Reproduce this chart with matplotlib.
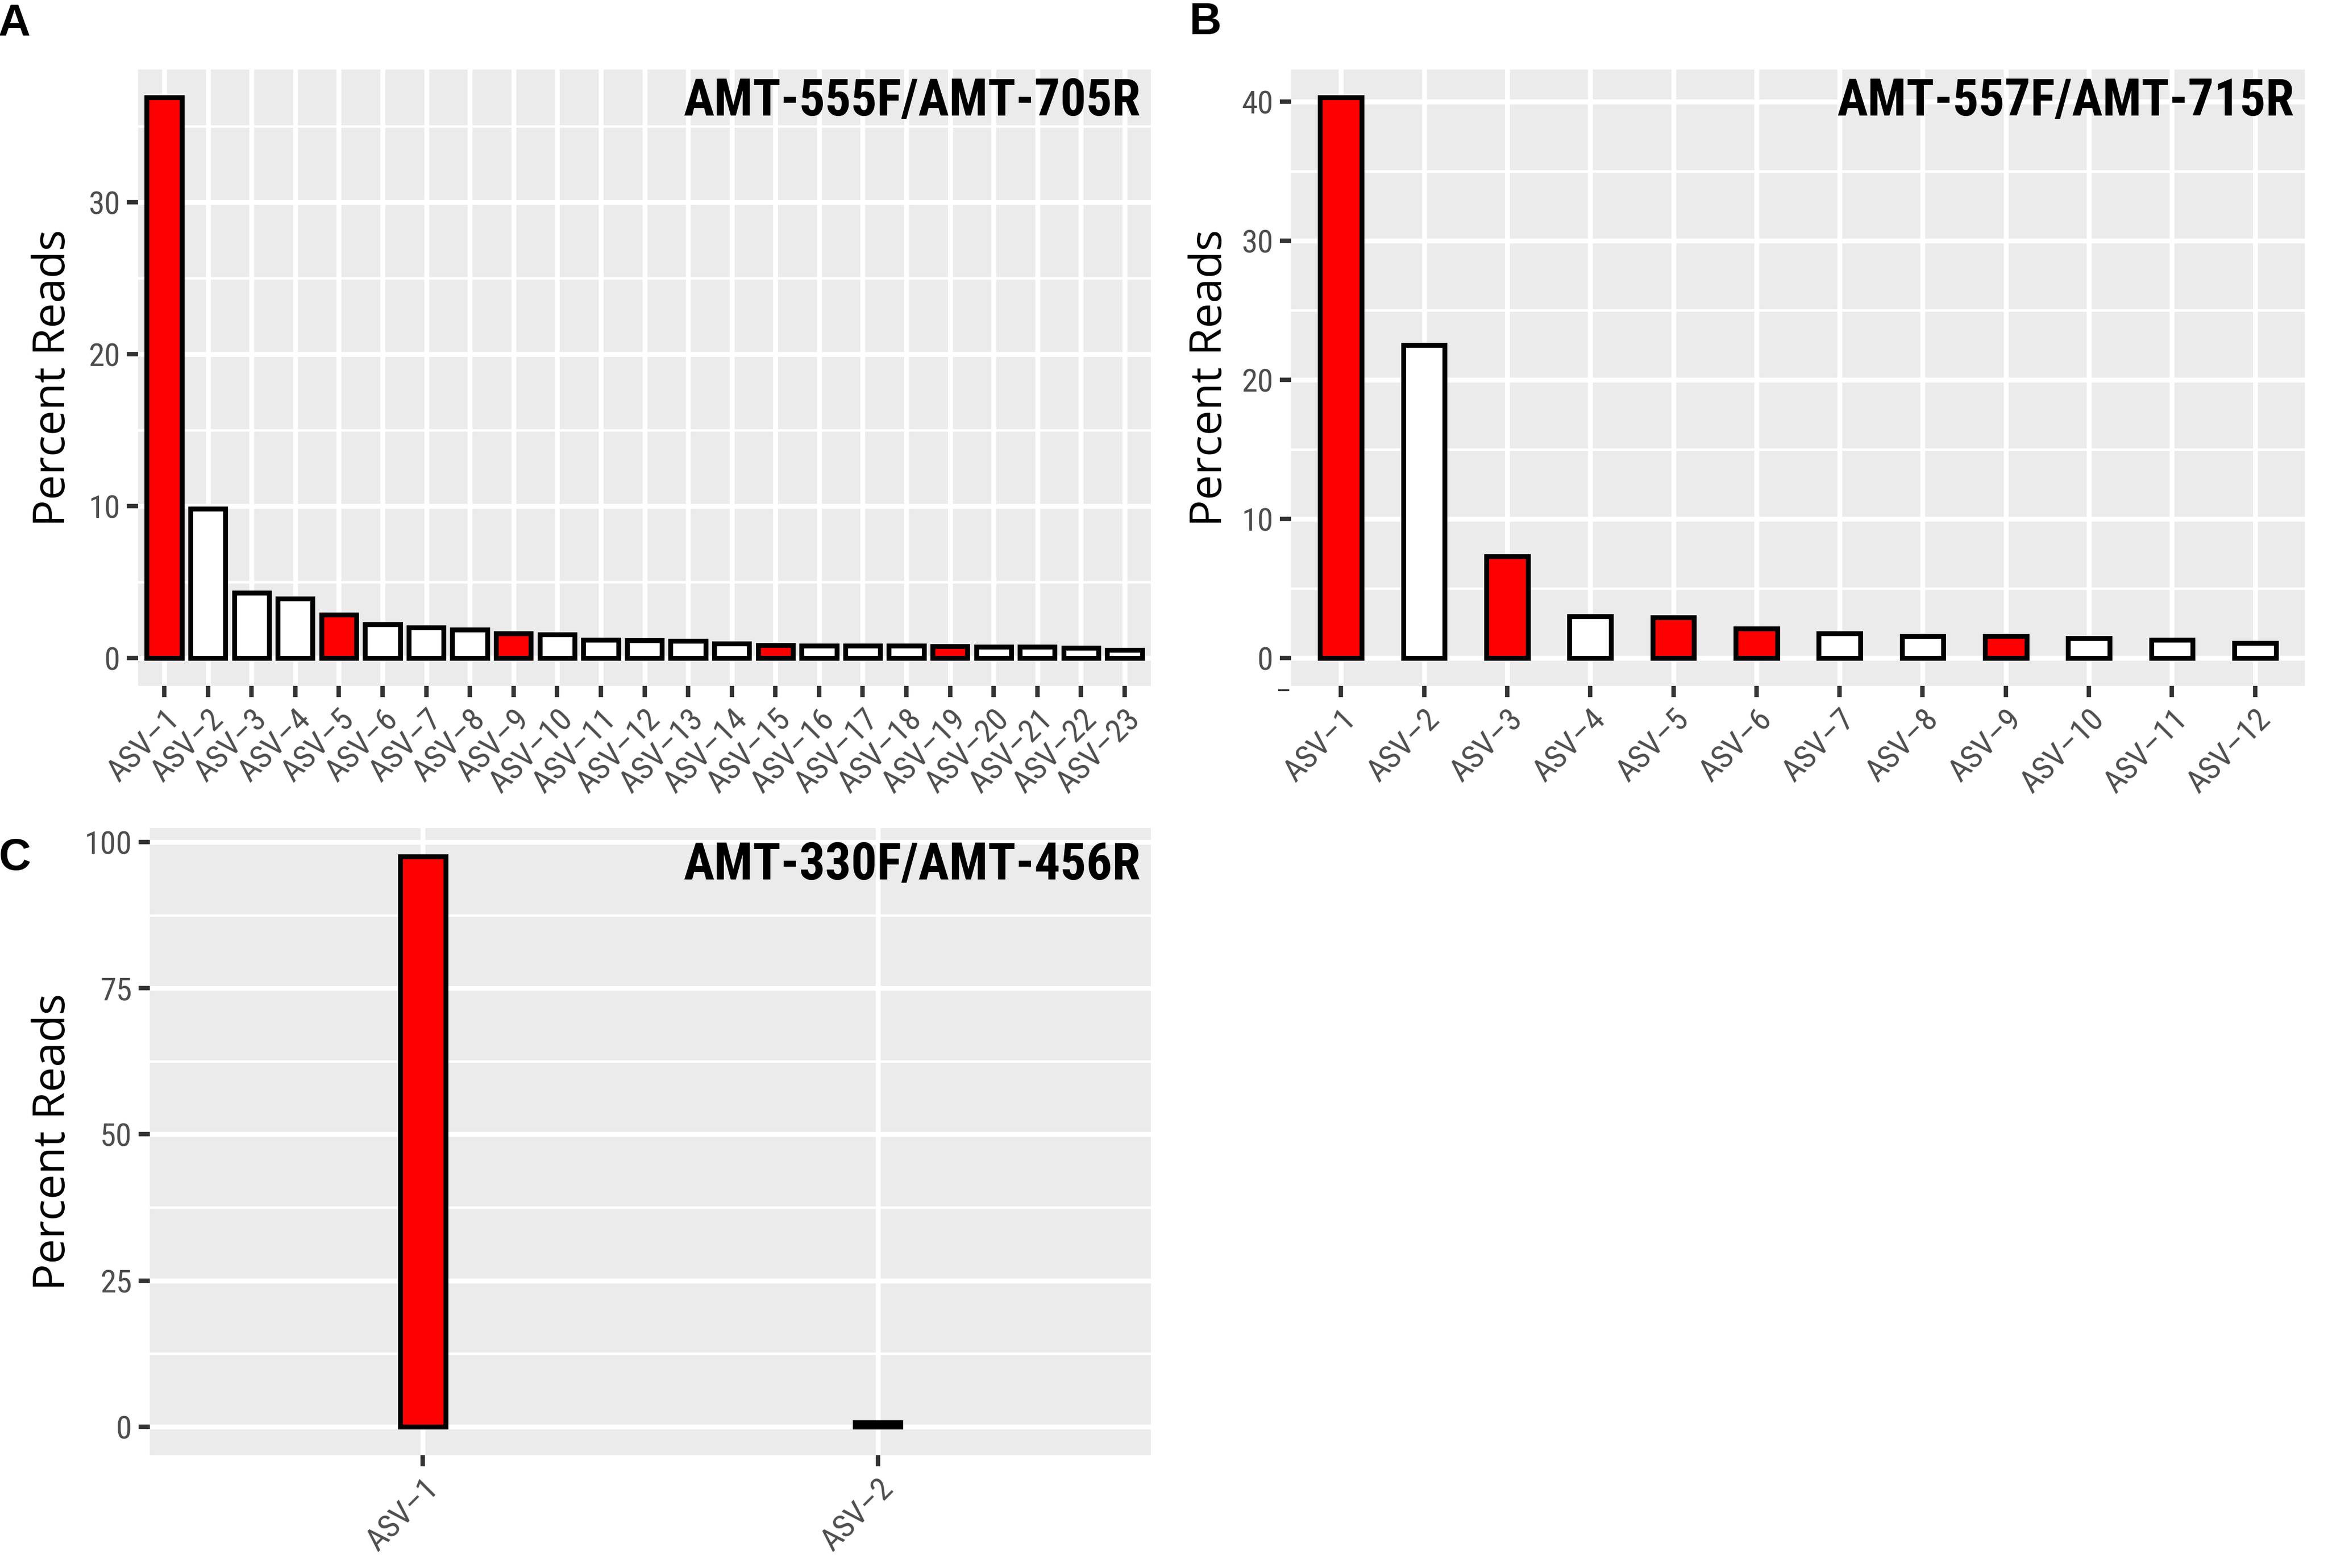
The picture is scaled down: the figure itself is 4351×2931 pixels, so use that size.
import matplotlib
matplotlib.use("Agg")
import matplotlib.pyplot as plt
from matplotlib import font_manager
from matplotlib.ticker import FixedLocator

# fonts: pick what is installed
names = {f.name for f in font_manager.fontManager.ttflist}
def pick(*cands):
    for c in cands:
        if c in names:
            return c
    return "DejaVu Sans"

narrow = pick("Liberation Sans Narrow", "Roboto Condensed", "Open Sans Condensed", "Liberation Sans")
label_font = pick("Open Sans", "Noto Sans", "DejaVu Sans")
bold_font = pick("Liberation Sans", "DejaVu Sans")

RED = "#FF0000"

# ---- data ----
asv_a = ["ASV–%d" % i for i in range(1, 24)]
pct_a = [36.9, 9.8, 4.3, 3.9, 2.85, 2.2, 2.0, 1.85, 1.6, 1.55, 1.2, 1.15,
         1.1, 0.95, 0.85, 0.8, 0.8, 0.8, 0.75, 0.72, 0.72, 0.65, 0.5]
red_a = ["ASV–1", "ASV–5", "ASV–9", "ASV–15", "ASV–19"]

asv_b = ["ASV–%d" % i for i in range(1, 13)]
pct_b = [40.3, 22.5, 7.3, 3.0, 2.9, 2.1, 1.75, 1.55, 1.55, 1.4, 1.3, 1.05]
red_b = ["ASV–1", "ASV–3", "ASV–5", "ASV–6", "ASV–9"]

asv_c = ["ASV–1", "ASV–2"]
pct_c = [97.5, 0.7]
red_c = ["ASV–1"]

W, H = 4351, 2931
fig = plt.figure(figsize=(W / 300, H / 300), dpi=300)

def px_axes(x0, y0, x1, y1):
    return fig.add_axes([x0 / W, 1 - y1 / H, (x1 - x0) / W, (y1 - y0) / H])

def panel(ax, labels, vals, reds, width, major, minor, title, title_y):
    n = len(labels)
    colors = [RED if l in reds else "white" for l in labels]
    ax.set_facecolor("#EBEBEB")
    ax.bar(range(n), vals, width=width, color=colors, edgecolor="black",
           linewidth=2.2, zorder=3)
    top = max(vals)
    ax.set_xlim(-0.6, n - 1 + 0.6)
    ax.set_ylim(-0.05 * top, 1.05 * top)
    ax.set_xticks(range(n))
    ax.set_xticklabels(labels, rotation=45, ha="right", va="top",
                       rotation_mode="anchor", fontfamily=narrow)
    ax.yaxis.set_major_locator(FixedLocator(major))
    ax.yaxis.set_minor_locator(FixedLocator(minor))
    for t in ax.get_yticklabels():
        t.set_fontfamily(narrow)
    ax.grid(which="major", color="white", linewidth=2.2, zorder=0)
    ax.grid(which="minor", axis="y", color="white", linewidth=1.1, zorder=0)
    ax.set_axisbelow(True)
    for s in ax.spines.values():
        s.set_visible(False)
    ax.tick_params(which="major", color="#333333", length=5, width=2,
                   labelsize=14.5, labelcolor="#4D4D4D", pad=3)
    ax.tick_params(which="minor", length=0)
    ax.text(0.99, title_y, title, transform=ax.transAxes, ha="right",
            va="center", fontsize=23, fontweight="bold", fontfamily=narrow,
            zorder=5)

axA = px_axes(258, 130, 2151, 1282)
panel(axA, asv_a, pct_a, red_a, 0.8, [0, 10, 20, 30], [5, 15, 25, 35],
      "AMT-555F/AMT-705R", 0.948)

axB = px_axes(2413, 130, 4308, 1282)
panel(axB, asv_b, pct_b, red_b, 0.5, [0, 10, 20, 30, 40], [5, 15, 25, 35],
      "AMT-557F/AMT-715R", 0.948)

axC = px_axes(280, 1548, 2151, 2720)
panel(axC, asv_c, pct_c, red_c, 0.1, [0, 25, 50, 75, 100],
      [12.5, 37.5, 62.5, 87.5], "AMT-330F/AMT-456R", 0.94)

# y labels
for x, (y0, y1) in [(100, (130, 1282)), (2262, (130, 1282)), (100, (1548, 2720))]:
    fig.text(x / W, 1 - (y0 + y1) / 2 / H, "Percent Reads", rotation=90,
             ha="center", va="center", fontsize=20, fontfamily=label_font)

# panel letters
for letter, x, y in [("A", 27, 44), ("B", 2253, 42), ("C", 28, 1604)]:
    fig.text(x / W, 1 - y / H, letter, ha="center", va="center",
             fontsize=20, fontweight="bold", fontfamily=bold_font)

# stray dash below panel B's lower-left corner
fig.text(2413 / W, 1 - 1294 / H, "–", ha="right", va="center",
         fontsize=12, color="#333333", fontfamily=narrow)

fig.savefig("out.png", dpi=300)
